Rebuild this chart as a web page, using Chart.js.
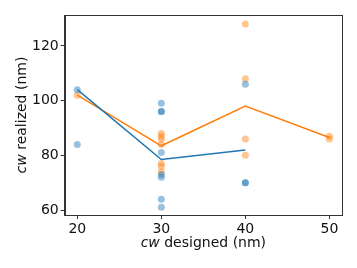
<!DOCTYPE html>
<html>
<head>
<meta charset="utf-8">
<script src="https://cdn.jsdelivr.net/npm/chart.js@4"></script>
<style>
  html, body { margin: 0; padding: 0; background: #fff; }
  #wrap { width: 357px; height: 268px; position: relative; }
</style>
</head>
<body>
<div id="wrap"><canvas id="cwChart" width="357" height="268"></canvas></div>
<script>
// designed widths (x) and realized widths (y)
var blueX = [20, 20, 30, 30, 30, 30, 30, 30, 30, 30, 40, 40, 40];
var blueY = [104, 84, 99, 96, 96, 81, 73, 72, 64, 61, 106, 70, 70];
var orangeX = [20, 30, 30, 30, 30, 30, 30, 30, 40, 40, 40, 40, 50, 50];
var orangeY = [102, 88, 87, 86, 84, 77, 76, 74, 128, 108, 86, 80, 87, 86];

// mean lines
var blueLineX = [20, 30, 40];
var blueLineY = [104, 78.5, 82];
var orangeLineX = [20, 30, 40, 50];
var orangeLineY = [102, 83.5, 98, 86.5];

var xTicks = [20, 30, 40, 50];
var yTicks = [60, 80, 100, 120];

var BLUE = "#1f77b4";
var ORANGE = "#ff7f0e";
var FONT = "'DejaVu Sans', sans-serif";
var FS = 14;

function toPoints(xs, ys) {
  var pts = [];
  for (var i = 0; i < xs.length; i++) pts.push({ x: xs[i], y: ys[i] });
  return pts;
}

// frame + axis titles (cw in italic)
var framePlugin = {
  id: "frame",
  afterDraw: function(chart) {
    var ctx = chart.ctx, a = chart.chartArea;
    ctx.save();
    ctx.strokeStyle = "#333";
    ctx.lineWidth = 1;
    ctx.strokeRect(Math.round(a.left) + 0.5, Math.round(a.top) + 0.5,
                   Math.round(a.right - a.left), Math.round(a.bottom - a.top));
    ctx.fillStyle = "#111";
    ctx.textBaseline = "middle";
    drawLabel(ctx, (a.left + a.right) / 2, 243, "designed (nm)");
    ctx.translate(22, (a.top + a.bottom) / 2);
    ctx.rotate(-Math.PI / 2);
    drawLabel(ctx, 0, 0, "realized (nm)");
    ctx.restore();
  }
};

function drawLabel(ctx, cx, cy, rest) {
  var it = "italic " + FS + "px " + FONT, rg = FS + "px " + FONT;
  ctx.font = it;
  var w1 = ctx.measureText("cw").width;
  ctx.font = rg;
  var w2 = ctx.measureText(" " + rest).width;
  var x0 = cx - (w1 + w2) / 2;
  ctx.textAlign = "left";
  ctx.font = it;
  ctx.fillText("cw", x0, cy);
  ctx.font = rg;
  ctx.fillText(" " + rest, x0 + w1, cy);
}

new Chart(document.getElementById("cwChart"), {
  type: "scatter",
  data: {
    datasets: [
      {
        data: toPoints(blueLineX, blueLineY), showLine: true, borderColor: BLUE,
        borderWidth: 1.5, pointRadius: 0, fill: false, tension: 0
      },
      {
        data: toPoints(orangeLineX, orangeLineY), showLine: true, borderColor: ORANGE,
        borderWidth: 1.5, pointRadius: 0, fill: false, tension: 0
      },
      {
        data: toPoints(blueX, blueY), backgroundColor: "rgba(31,119,180,0.45)",
        borderWidth: 0, pointRadius: 3.5
      },
      {
        data: toPoints(orangeX, orangeY), backgroundColor: "rgba(255,127,14,0.45)",
        borderWidth: 0, pointRadius: 3.5
      }
    ]
  },
  options: {
    responsive: false,
    animation: false,
    layout: { padding: { top: 15, right: 15, left: 0, bottom: 0 } },
    plugins: { legend: { display: false }, tooltip: { enabled: false } },
    scales: {
      x: {
        type: "linear", min: 18.5, max: 51.5,
        afterBuildTicks: function(s) { s.ticks = xTicks.map(function(v) { return { value: v }; }); },
        afterFit: function(s) { s.height = 53; },
        grid: { drawOnChartArea: false, tickLength: 4, tickColor: "#333" },
        border: { display: true, color: "#333" },
        ticks: { color: "#111", padding: 2, font: { family: FONT, size: FS } }
      },
      y: {
        type: "linear", min: 58.2, max: 131.3,
        afterBuildTicks: function(s) { s.ticks = yTicks.map(function(v) { return { value: v }; }); },
        afterFit: function(s) { s.width = 64.7; },
        grid: { drawOnChartArea: false, tickLength: 4, tickColor: "#333" },
        border: { display: true, color: "#333" },
        ticks: { color: "#111", padding: 2, font: { family: FONT, size: FS } }
      }
    }
  },
  plugins: [framePlugin]
});
</script>
</body>
</html>
